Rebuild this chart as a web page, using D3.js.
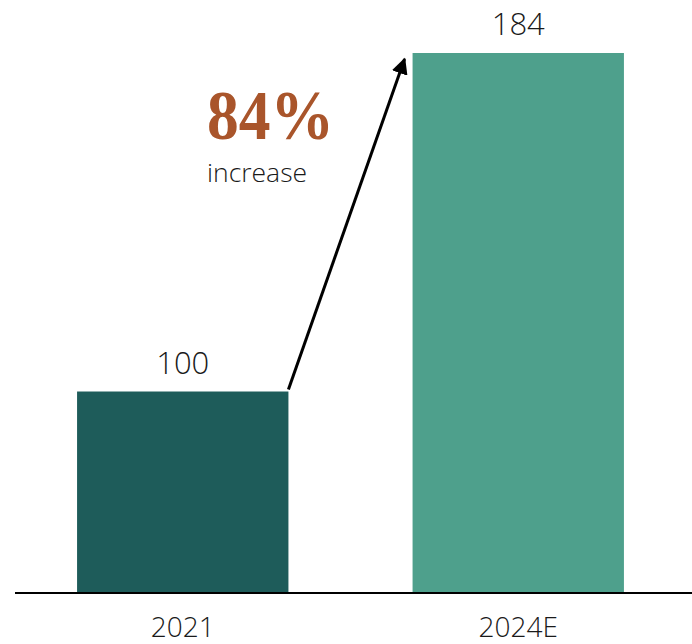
<!DOCTYPE html>
<html>
<head>
<meta charset="utf-8">
<script src="https://cdn.jsdelivr.net/npm/d3@7"></script>
<style>
  html, body { margin: 0; padding: 0; background: #fff; }
  svg { display: block; }
</style>
</head>
<body>
<svg id="chart" width="692" height="644"></svg>
<script>
// Index values (2021 = 100)
const categories = ["2021", "2024E"];
const values = [100, 184];
const barColors = ["#1e5c5a", "#4ea08c"];
const growthLabel = "84%";
const growthNote = "increase";

const width = 692, height = 644;
const svg = d3.select("#chart");

const x = d3.scaleBand()
  .domain(categories)
  .range([15, 686])
  .paddingInner(0.37)
  .paddingOuter(0.185);

const y = d3.scaleLinear()
  .domain([50, 184])
  .range([593, 53]);

const labelFont = "'Open Sans', 'Noto Sans', sans-serif";

// Bars
svg.selectAll("rect.bar")
  .data(values)
  .join("rect")
  .attr("class", "bar")
  .attr("x", (d, i) => x(categories[i]))
  .attr("y", d => y(d))
  .attr("width", x.bandwidth())
  .attr("height", d => y.range()[0] - y(d))
  .attr("fill", (d, i) => barColors[i]);

// Value labels above bars
svg.selectAll("text.value")
  .data(values)
  .join("text")
  .attr("class", "value")
  .attr("x", (d, i) => x(categories[i]) + x.bandwidth() / 2)
  .attr("y", d => y(d) - 18)
  .attr("text-anchor", "middle")
  .attr("font-family", labelFont)
  .attr("font-weight", 300)
  .attr("font-size", 31)
  .attr("fill", "#1a1a1a")
  .text(d => d);

// Baseline axis with category labels
const axis = d3.axisBottom(x).tickSize(0).tickPadding(0);
const gAxis = svg.append("g")
  .attr("transform", `translate(0,${y.range()[0]})`)
  .call(axis);
gAxis.select(".domain").remove();
gAxis.append("line")
  .attr("x1", 15).attr("x2", width)
  .attr("y1", 0).attr("y2", 0)
  .attr("stroke", "#000")
  .attr("stroke-width", 2);
gAxis.selectAll(".tick text")
  .attr("y", 44)
  .attr("dy", null)
  .attr("font-family", labelFont)
  .attr("font-weight", 300)
  .attr("font-size", 28)
  .attr("fill", "#1a1a1a");

// Growth arrow from the first bar's corner to the second bar
const defs = svg.append("defs");
defs.append("marker")
  .attr("id", "arrowhead")
  .attr("viewBox", "0 0 10 10")
  .attr("refX", 9).attr("refY", 5)
  .attr("markerWidth", 5.5).attr("markerHeight", 5.5)
  .attr("markerUnits", "strokeWidth")
  .attr("orient", "auto")
  .append("path")
  .attr("d", "M0,0 L10,5 L0,10 z")
  .attr("fill", "#000");

svg.append("line")
  .attr("x1", x(categories[0]) + x.bandwidth())
  .attr("y1", y(values[0]) - 2)
  .attr("x2", x(categories[1]) - 8)
  .attr("y2", y(values[1]) + 6)
  .attr("stroke", "#000")
  .attr("stroke-width", 3)
  .attr("marker-end", "url(#arrowhead)");

// Growth annotation
svg.append("text")
  .attr("x", 207)
  .attr("y", 139)
  .attr("font-family", "'Liberation Serif', 'DejaVu Serif', serif")
  .attr("font-weight", 700)
  .attr("font-size", 70)
  .attr("textLength", 127)
  .attr("lengthAdjust", "spacingAndGlyphs")
  .attr("fill", "#a9552b")
  .text(growthLabel);

svg.append("text")
  .attr("x", 207)
  .attr("y", 182)
  .attr("font-family", labelFont)
  .attr("font-weight", 300)
  .attr("font-size", 26.5)
  .attr("fill", "#1a1a1a")
  .text(growthNote);
</script>
</body>
</html>
